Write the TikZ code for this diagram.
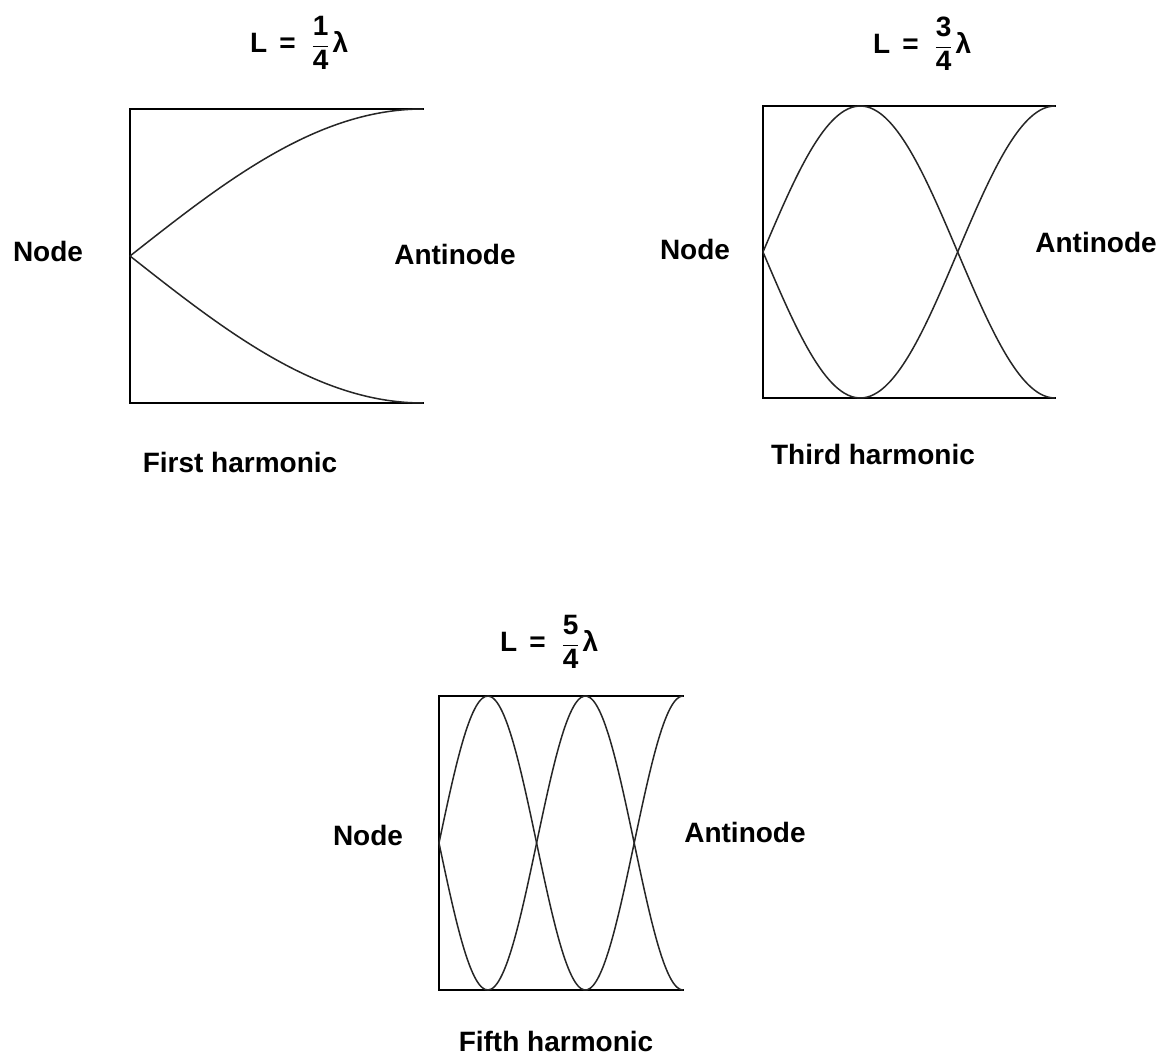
\documentclass[tikz,border=0pt]{standalone}
\usepackage{amsmath}
\usepackage{fontspec}
\setmainfont{Liberation Sans}
\usepackage{tikz}
\usetikzlibrary{positioning}

\newcommand{\lenfrac}[1]{L\hspace{12pt}=\hspace{16pt}$\dfrac{\text{#1}}{\text{4}}$\hspace{3pt}λ}

\tikzset{
  lbl/.style={font=\fontsize{28}{32}\selectfont\bfseries, inner sep=0pt},
  tube/.style={line width=1.7pt, line cap=rect},
  wave/.style={line width=1.5pt, black!85, smooth, samples=80},
}

\begin{document}
\begin{tikzpicture}[x=1pt, y=-1pt]
  \useasboundingbox[fill=white] (0,0) rectangle (1163,1055);

  % First harmonic: tube 130..423, 109..403
  \coordinate (a1) at (423,109);
  \coordinate (b1) at (130,109);
  \coordinate (c1) at (130,403);
  \coordinate (d1) at (423,403);
  \draw[tube] (a1) -- (b1) -- (c1) -- (d1);
  \draw[wave, domain=0:1] plot ({130+293*\x}, {256-147*sin(90*\x)});
  \draw[wave, domain=0:1] plot ({130+293*\x}, {256+147*sin(90*\x)});
  \node[lbl, anchor=west] (ttl1) at (250,43) {\lenfrac{1}};
  \node[lbl] (nd1) at (48,251) {Node};
  \node[lbl] (an1) at (455,254) {Antinode};
  \node[lbl] (hm1) at (240,462) {First harmonic};

  % Third harmonic: tube 763..1055, 106..398
  \coordinate (a2) at (1055,106);
  \coordinate (b2) at (763,106);
  \coordinate (c2) at (763,398);
  \coordinate (d2) at (1055,398);
  \draw[tube] (a2) -- (b2) -- (c2) -- (d2);
  \draw[wave, domain=0:1] plot ({763+292*\x}, {252-146*sin(270*\x)});
  \draw[wave, domain=0:1] plot ({763+292*\x}, {252+146*sin(270*\x)});
  \node[lbl, anchor=west] (ttl2) at (873,44) {\lenfrac{3}};
  \node[lbl] (nd2) at (695,249) {Node};
  \node[lbl] (an2) at (1096,242) {Antinode};
  \node[lbl] (hm2) at (873,454) {Third harmonic};

  % Fifth harmonic: tube 439..683, 696..990
  \coordinate (a3) at (683,696);
  \coordinate (b3) at (439,696);
  \coordinate (c3) at (439,990);
  \coordinate (d3) at (683,990);
  \draw[tube] (a3) -- (b3) -- (c3) -- (d3);
  \draw[wave, domain=0:1] plot ({439+244*\x}, {843-147*sin(450*\x)});
  \draw[wave, domain=0:1] plot ({439+244*\x}, {843+147*sin(450*\x)});
  \node[lbl, anchor=west] (ttl3) at (500,642) {\lenfrac{5}};
  \node[lbl] (nd3) at (368,835) {Node};
  \node[lbl] (an3) at (745,832) {Antinode};
  \node[lbl] (hm3) at (556,1041) {Fifth harmonic};
\end{tikzpicture}
\end{document}
